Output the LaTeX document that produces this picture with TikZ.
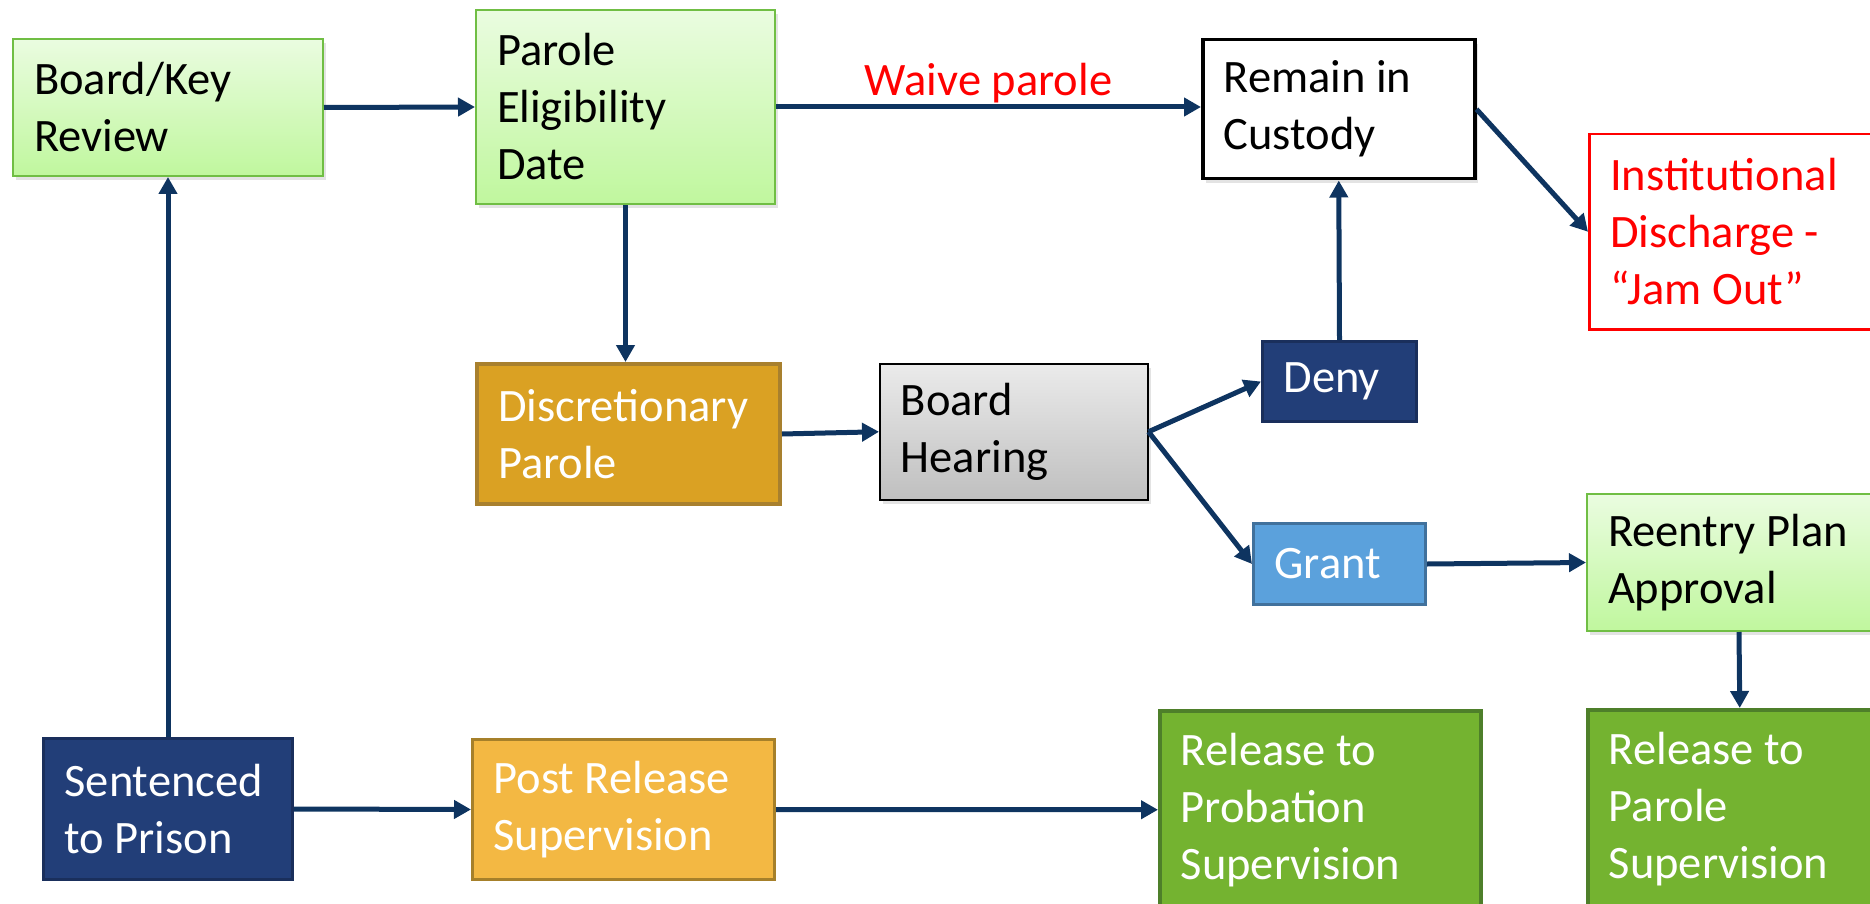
\documentclass[tikz,border=0pt]{standalone}
\usepackage{fontspec}
\setmainfont{Carlito}
\usetikzlibrary{positioning, arrows.meta, shadows}

\definecolor{flowblue}{RGB}{14,52,96}
\definecolor{leaftop}{RGB}{234,252,224}
\definecolor{leafbottom}{RGB}{192,247,158}
\definecolor{leafedge}{RGB}{112,190,68}
\definecolor{goldfill}{RGB}{218,161,35}
\definecolor{goldedge}{RGB}{168,128,46}
\definecolor{sunfill}{RGB}{243,184,67}
\definecolor{sunedge}{RGB}{166,128,42}
\definecolor{navyfill}{RGB}{34,62,120}
\definecolor{navyedge}{RGB}{26,47,92}
\definecolor{skyfill}{RGB}{91,161,220}
\definecolor{skyedge}{RGB}{65,113,156}
\definecolor{grassfill}{RGB}{116,179,48}
\definecolor{grassedge}{RGB}{78,127,42}

\begin{document}
\begin{tikzpicture}[x=1pt, y=-1pt,
	stage/.style={rectangle, anchor=north west, inner xsep=21pt, inner ysep=0pt, align=flush left, font=\fontsize{46.5}{57}\selectfont},
	softshadow/.style={drop shadow={shadow xshift=3pt, shadow yshift=-4pt, opacity=0.22}},
	leafbox/.style={stage, softshadow, draw=leafedge, line width=2pt, top color=leaftop, bottom color=leafbottom},
	greybox/.style={stage, softshadow, draw=black, line width=1.5pt, top color=black!8, bottom color=black!25},
	plainbox/.style={stage, softshadow, draw=black, fill=white, line width=3.5pt},
	alertbox/.style={stage, draw=red, fill=white, text=red, line width=2.5pt},
	goldbox/.style={stage, draw=goldedge, fill=goldfill, text=white, line width=4pt},
	sunbox/.style={stage, draw=sunedge, fill=sunfill, text=white, line width=3pt},
	navybox/.style={stage, draw=navyedge, fill=navyfill, text=white, line width=3pt},
	skybox/.style={stage, draw=skyedge, fill=skyfill, text=white, line width=3pt},
	grassbox/.style={stage, draw=grassedge, fill=grassfill, text=white, line width=3.5pt},
	flow/.style={-{Triangle[length=17pt, width=18pt]}, line width=5pt, draw=flowblue}
	]
	\useasboundingbox (0,0) rectangle (1870,904);

	% Top row
	\node[leafbox, text width=268pt, minimum height=137pt] (review) at (12,38) {Board/Key\\Review};
	\node[leafbox, text width=257pt, minimum height=194pt] (eligible) at (475,9) {Parole\\Eligibility\\Date};
	\node[plainbox, text width=230pt, minimum height=139pt] (custody) at (1201,38) {Remain in\\Custody};
	\node[alertbox, text width=260pt, minimum height=195pt] (jamout) at (1588,133) {Institutional\\Discharge -\\“Jam Out”};

	% Middle row
	\node[goldbox, text width=261pt, minimum height=140pt] (discretion) at (475,362) {Discretionary\\Parole};
	\node[greybox, text width=226pt, minimum height=136pt] (hearing) at (879,363) {Board\\Hearing};
	\node[navybox, text width=112pt, minimum height=80pt] (deny) at (1261,340) {Deny};
	\node[skybox, text width=130pt, minimum height=81pt] (grant) at (1252,522) {Grant};
	\node[leafbox, text width=262pt, minimum height=137pt] (reentry) at (1586,493) {Reentry Plan\\Approval};

	% Bottom row
	\node[navybox, text width=207pt, minimum height=141pt] (sentenced) at (42,737) {Sentenced\\to Prison};
	\node[sunbox, text width=260pt, minimum height=140pt] (postrelease) at (471,738) {Post Release\\Supervision};
	\node[grassbox, text width=279pt, minimum height=198pt] (probation) at (1158,709) {Release to\\Probation\\Supervision};
	\node[grassbox, text width=262pt, minimum height=199pt] (parolesup) at (1586,708) {Release to\\Parole\\Supervision};

	% Connectors
	\draw[flow] (sentenced.north) -- (review.south);
	\draw[flow] (review.east) -- (eligible.west);
	\draw[flow] (eligible.east) -- (eligible.east -| custody.west)
		node[midway, above, inner sep=2pt, text=red, font=\fontsize{46.5}{57}\selectfont] (waive) {Waive parole};
	\draw[flow] (custody.east) -- (jamout.west);
	\draw[flow] (eligible.south) -- (eligible.south |- discretion.north);
	\draw[flow] (discretion.east) -- (hearing.west);
	\draw[flow] (hearing.east) -- (deny.west);
	\draw[flow] (hearing.east) -- (grant.west);
	\draw[flow] (deny.north) -- (custody.south);
	\draw[flow] (grant.east) -- (reentry.west);
	\draw[flow] (reentry.south) -- (parolesup.north);
	\draw[flow] (sentenced.east) -- (postrelease.west);
	\draw[flow] (postrelease.east) -- (probation.west);
\end{tikzpicture}
\end{document}
